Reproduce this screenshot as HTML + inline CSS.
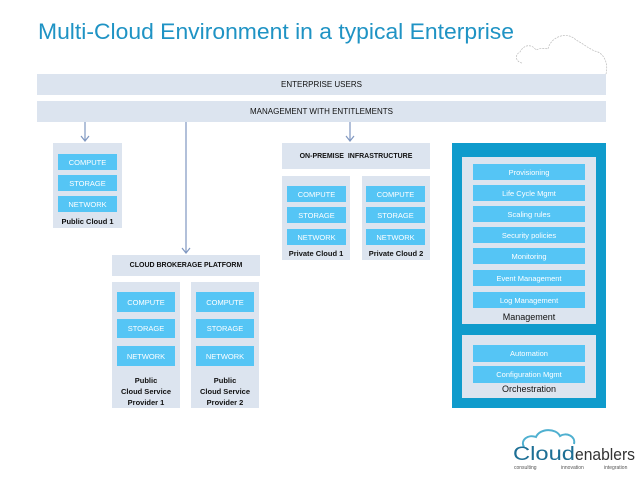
<!DOCTYPE html>
<html><head><meta charset="utf-8"><style>
body{margin:0;width:638px;height:479px;background:#fff;position:relative;overflow:hidden;font-family:"Liberation Sans",sans-serif}
div{position:absolute;box-sizing:border-box}
.bg{background:#dce4ef}
.b{background:#55c5f5;color:#fff;font-size:7.5px;text-align:center;display:flex;align-items:center;justify-content:center}
.h{font-size:7.5px;color:#111;display:flex;align-items:center;justify-content:center;text-align:center}
.l{font-size:7.5px;font-weight:bold;color:#111;text-align:center;line-height:11px}
.ln{background:#7f97c0;width:1px}
</style></head><body>
<svg style="position:absolute;left:0;top:0" width="638" height="479">
<text x="38" y="39" font-family="Liberation Sans, sans-serif" font-size="22" fill="#1f93c4" textLength="476" lengthAdjust="spacingAndGlyphs">Multi-Cloud Environment in a typical Enterprise</text>
<path d="M522 63 C516 62 514 55 520 52 C524 44 532 44 536 50 C540 48 544 48 548 49 C550 38 566 30 576 40 C584 44 590 50 598 52 C606 56 608 66 606 74" fill="none" stroke="#bbb" stroke-width="0.7" stroke-dasharray="2,1"/>
<g stroke="#7f97c0" fill="none" stroke-width="1.2">
<line x1="85" y1="122" x2="85" y2="141"/><path d="M81 136 L85 141 L89 136"/>
<line x1="186" y1="122" x2="186" y2="253"/><path d="M182 248 L186 253 L190 248"/>
<line x1="350" y1="122" x2="350" y2="141"/><path d="M346 136 L350 141 L354 136"/>
</g>
<path d="M524 447 C520 440 528 434 536 437 C540 428 556 428 560 436 C566 432 576 436 574 444" fill="none" stroke="#4fb0d0" stroke-width="2"/>
<text x="513" y="460" font-family="Liberation Sans, sans-serif" font-size="19" fill="#1d6f95" textLength="62" lengthAdjust="spacingAndGlyphs">Cloud</text>
<text x="575" y="460" font-family="Liberation Sans, sans-serif" font-size="17" fill="#333" textLength="60" lengthAdjust="spacingAndGlyphs">enablers</text>
<text x="514" y="469" font-family="Liberation Sans, sans-serif" font-size="5" fill="#555">consulting</text>
<text x="561" y="469" font-family="Liberation Sans, sans-serif" font-size="5" fill="#555">innovation</text>
<text x="604" y="469" font-family="Liberation Sans, sans-serif" font-size="5" fill="#555">integration</text>
</svg>

<div class="bg h" style="left:37px;top:74px;width:569px;height:21px;font-size:8px">ENTERPRISE USERS</div>
<div class="bg h" style="left:37px;top:101px;width:569px;height:21px;font-size:8px">MANAGEMENT WITH ENTITLEMENTS</div>

<div class="bg" style="left:53px;top:143px;width:69px;height:85px"></div>
<div class="b" style="left:58px;top:154px;width:59px;height:16px">COMPUTE</div>
<div class="b" style="left:58px;top:175px;width:59px;height:16px">STORAGE</div>
<div class="b" style="left:58px;top:196px;width:59px;height:16px">NETWORK</div>
<div class="l" style="left:53px;top:216px;width:69px">Public Cloud 1</div>

<div class="bg h" style="left:282px;top:143px;width:148px;height:26px;font-weight:bold;font-size:7px">ON-PREMISE&nbsp; INFRASTRUCTURE</div>
<div class="bg" style="left:282px;top:176px;width:68px;height:84px"></div>
<div class="b" style="left:287px;top:186px;width:59px;height:16px">COMPUTE</div>
<div class="b" style="left:287px;top:207px;width:59px;height:16px">STORAGE</div>
<div class="b" style="left:287px;top:229px;width:59px;height:16px">NETWORK</div>
<div class="l" style="left:282px;top:248px;width:68px">Private Cloud 1</div>
<div class="bg" style="left:362px;top:176px;width:68px;height:84px"></div>
<div class="b" style="left:366px;top:186px;width:59px;height:16px">COMPUTE</div>
<div class="b" style="left:366px;top:207px;width:59px;height:16px">STORAGE</div>
<div class="b" style="left:366px;top:229px;width:59px;height:16px">NETWORK</div>
<div class="l" style="left:362px;top:248px;width:68px">Private Cloud 2</div>

<div class="bg h" style="left:112px;top:255px;width:148px;height:21px;font-weight:bold;font-size:7px">CLOUD BROKERAGE PLATFORM</div>
<div class="bg" style="left:112px;top:282px;width:68px;height:126px"></div>
<div class="b" style="left:117px;top:292px;width:58px;height:20px">COMPUTE</div>
<div class="b" style="left:117px;top:319px;width:58px;height:19px">STORAGE</div>
<div class="b" style="left:117px;top:346px;width:58px;height:20px">NETWORK</div>
<div class="l" style="left:112px;top:375px;width:68px">Public<br>Cloud Service<br>Provider 1</div>
<div class="bg" style="left:191px;top:282px;width:68px;height:126px"></div>
<div class="b" style="left:196px;top:292px;width:58px;height:20px">COMPUTE</div>
<div class="b" style="left:196px;top:319px;width:58px;height:19px">STORAGE</div>
<div class="b" style="left:196px;top:346px;width:58px;height:20px">NETWORK</div>
<div class="l" style="left:191px;top:375px;width:68px">Public<br>Cloud Service<br>Provider 2</div>

<div style="left:452px;top:143px;width:154px;height:265px;background:#0f9bcc"></div>
<div class="bg" style="left:462px;top:157px;width:134px;height:167px"></div>
<div class="b" style="left:473px;top:164px;width:112px;height:16px">Provisioning</div>
<div class="b" style="left:473px;top:185px;width:112px;height:16px">Life Cycle Mgmt</div>
<div class="b" style="left:473px;top:206px;width:112px;height:16px">Scaling rules</div>
<div class="b" style="left:473px;top:227px;width:112px;height:16px">Security policies</div>
<div class="b" style="left:473px;top:248px;width:112px;height:16px">Monitoring</div>
<div class="b" style="left:473px;top:270px;width:112px;height:16px">Event Management</div>
<div class="b" style="left:473px;top:292px;width:112px;height:16px">Log Management</div>
<div style="left:462px;top:312px;width:134px;text-align:center;font-size:9px;color:#111">Management</div>
<div class="bg" style="left:462px;top:335px;width:134px;height:63px"></div>
<div class="b" style="left:473px;top:345px;width:112px;height:17px">Automation</div>
<div class="b" style="left:473px;top:366px;width:112px;height:17px">Configuration Mgmt</div>
<div style="left:462px;top:384px;width:134px;text-align:center;font-size:9px;color:#111">Orchestration</div>
</body></html>
